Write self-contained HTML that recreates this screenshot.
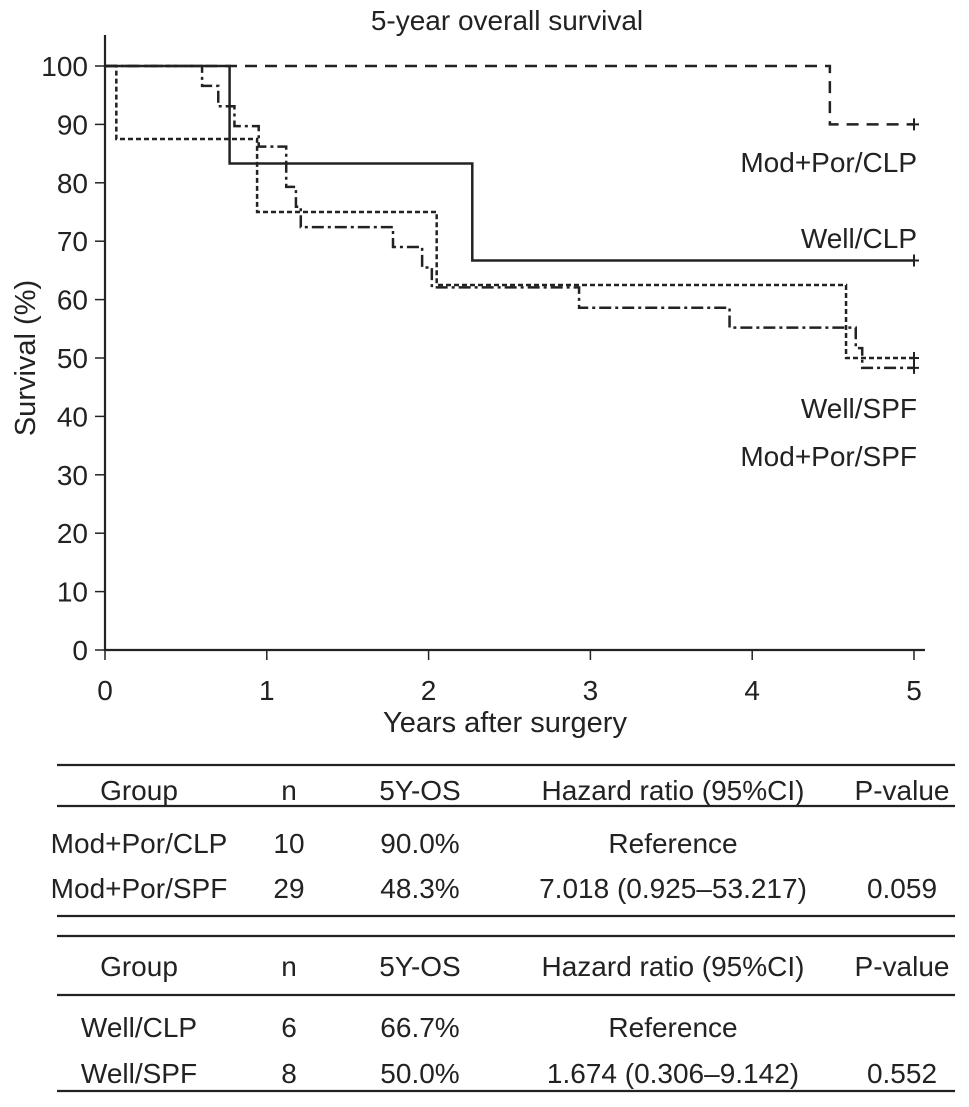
<!DOCTYPE html>
<html><head><meta charset="utf-8"><style>
body{margin:0;background:#fff;}
svg{display:block;font-family:"Liberation Sans",Arial,sans-serif;fill:#222;}
</style></head><body>
<svg width="969" height="1107">
<g id="chart"></g>
<g id="table"></g>
</svg>
<script>
const NS="http://www.w3.org/2000/svg";
const xTicks=[0,1,2,3,4,5];
const yTicks=[0,10,20,30,40,50,60,70,80,90,100];
const seriesNames=["Mod+Por/CLP","Well/CLP","Well/SPF","Mod+Por/SPF"];
const modClpTimes=[4.48];
const modClpValues=[90];
const wellClpTimes=[0.77,2.27];
const wellClpValues=[83.3,66.7];
const wellSpfTimes=[0.07,0.94,2.05,4.58];
const wellSpfValues=[87.5,75,62.5,50];
const modSpfTimes=[0.6,0.7,0.8,0.95,1.12,1.18,1.21,1.78,1.96,2.02,2.93,3.86,4.64,4.68];
const modSpfValues=[96.6,93.1,89.7,86.2,79.3,75.9,72.4,69.0,65.5,62.1,58.6,55.2,51.7,48.3];
const X=t=>105+t*161.8, Y=v=>650-v*5.84;
const chart=document.getElementById('chart');
function el(tag,attrs,parent,text){const e=document.createElementNS(NS,tag);for(const k in attrs)e.setAttribute(k,attrs[k]);if(text!==undefined)e.textContent=text;(parent||chart).appendChild(e);return e;}
let t=el('text',{x:507,y:30,'text-anchor':'middle','font-size':28},chart,'5-year overall survival');


let a=el('path',{d:'M105,35V650H925',stroke:'#222','stroke-width':2.2,fill:'none'});


yTicks.forEach(v=>{
 el('line',{x1:95,x2:105,y1:Y(v),y2:Y(v),stroke:'#222','stroke-width':1.5});
 let l=el('text',{x:88,y:Y(v)+10,'text-anchor':'end','font-size':28},chart,v);
 
 
});
xTicks.forEach(v=>{
 el('line',{x1:X(v),x2:X(v),y1:650,y2:660,stroke:'#222','stroke-width':1.5});
 let l=el('text',{x:X(v),y:700,'text-anchor':'middle','font-size':28},chart,v);
 
 
});
let xt=el('text',{x:505,y:732,'text-anchor':'middle','font-size':29},chart,'Years after surgery');


let yt=el('text',{x:0,y:0,'text-anchor':'middle','font-size':29,transform:'translate(35,358) rotate(-90)'},chart,'Survival (%)');


function step(times,vals,dash,name){
 let d='M'+X(0)+','+Y(100),prev=100;
 times.forEach((tt,i)=>{d+='H'+X(tt)+'V'+Y(vals[i]);prev=vals[i];});
 d+='H'+X(5);
 let p=el('path',{d,stroke:'#222','stroke-width':2.5,fill:'none','stroke-dasharray':dash});
 
 
 el('path',{d:`M${X(5)},${Y(prev)-6}v12M${X(5)-5},${Y(prev)}h10`,stroke:'#222','stroke-width':2});
}
step(modClpTimes,modClpValues,'12,8','line-mod-por-clp');
step(wellClpTimes,wellClpValues,'','line-well-clp');
step(wellSpfTimes,wellSpfValues,'5,3','line-well-spf');
step(modSpfTimes,modSpfValues,'12,4,3,4','line-mod-por-spf');
const labelY=[172,248,418,466];
seriesNames.forEach((n,i)=>{
 let l=el('text',{x:917,y:labelY[i],'text-anchor':'end','font-size':28},chart,n);
 
 
});
const tb=document.getElementById('table');
const cols=[139,289,420,673,902];
const header=["Group","n","5Y-OS","Hazard ratio (95%CI)","P-value"];
const rows1=[["Mod+Por/CLP","10","90.0%","Reference",""],["Mod+Por/SPF","29","48.3%","7.018 (0.925–53.217)","0.059"]];
const rows2=[["Well/CLP","6","66.7%","Reference",""],["Well/SPF","8","50.0%","1.674 (0.306–9.142)","0.552"]];
[765,806,916,936,995,1091].forEach(y=>{
 let l=el('line',{x1:57,x2:955,y1:y,y2:y,stroke:'#222','stroke-width':2.2},tb);
 
 
});
function row(r,y,name){r.forEach((c,i)=>{let e=el('text',{x:cols[i],y:y,'text-anchor':'middle','font-size':28},tb,c);
 
 });}
row(header,800,'table-header');
row(rows1[0],853,'table-row');
row(rows1[1],898,'table-row');
row(header,976,'table-header');
row(rows2[0],1037,'table-row');
row(rows2[1],1083,'table-row');
</script>
</body></html>
